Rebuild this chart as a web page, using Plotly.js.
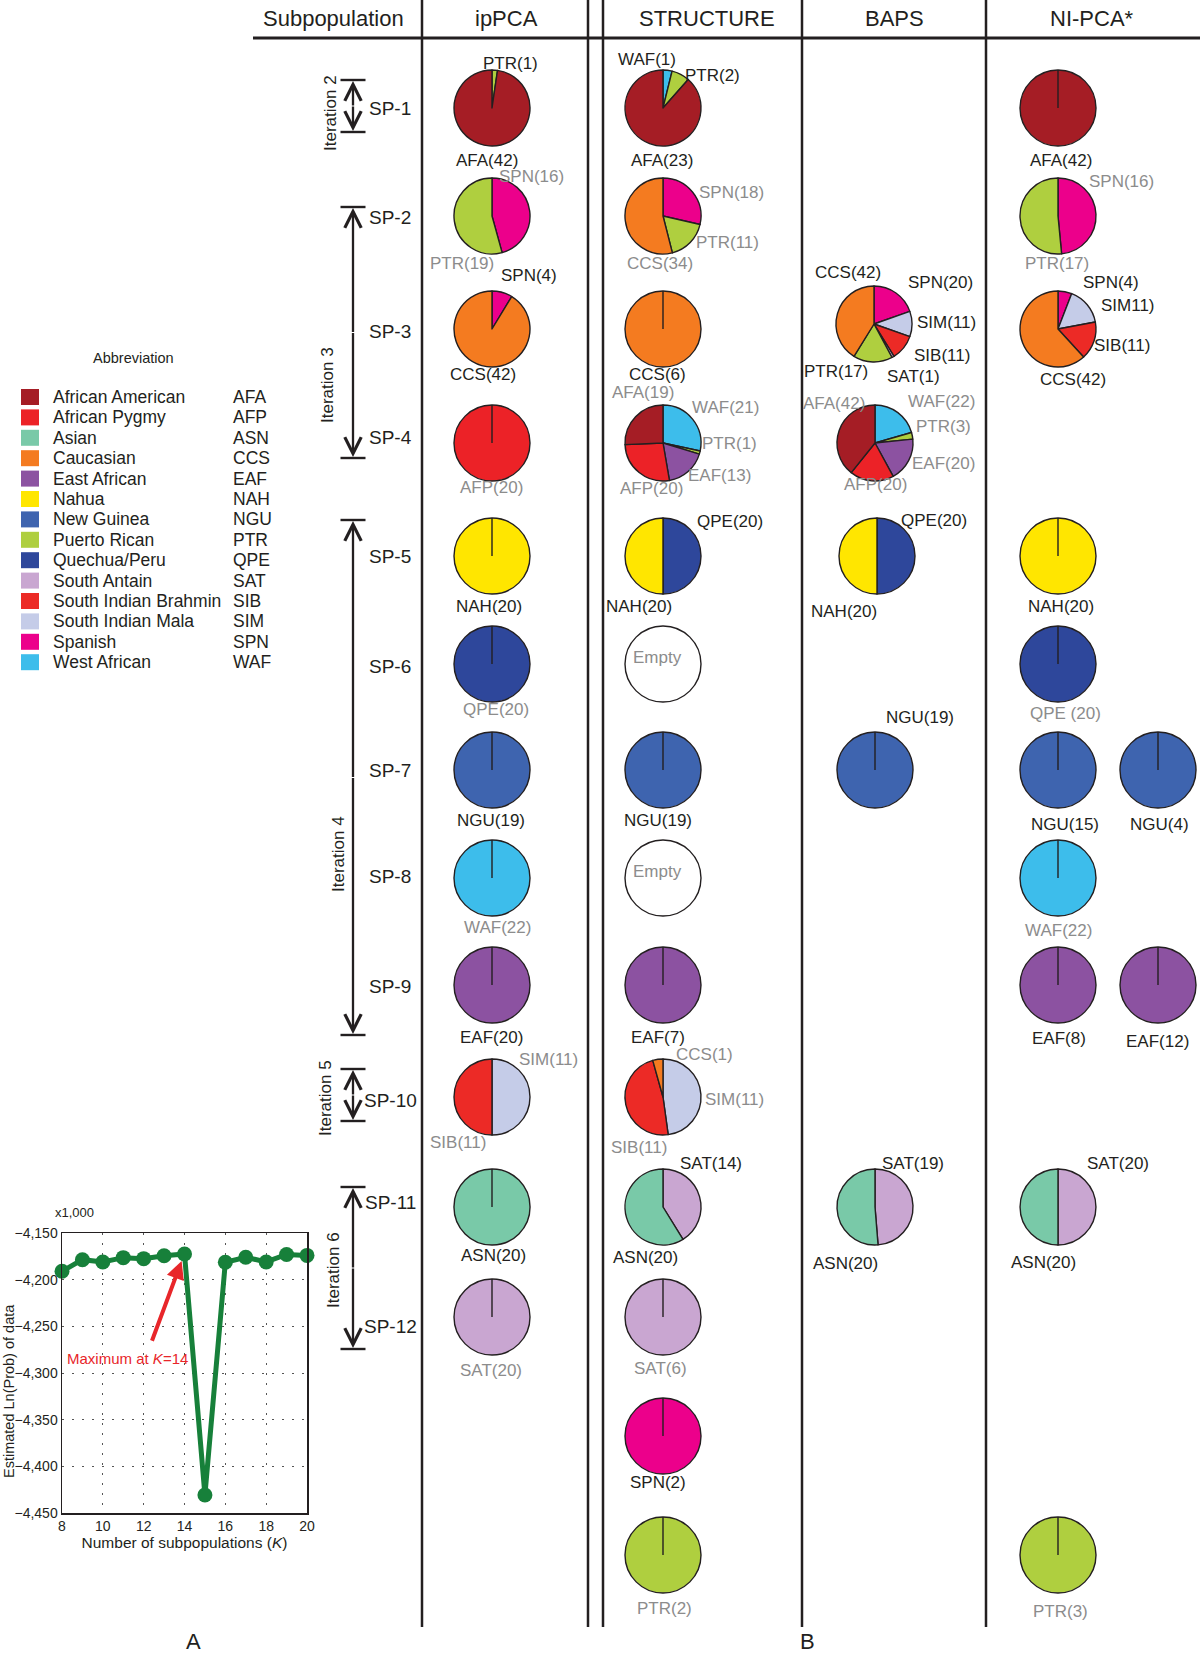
<!DOCTYPE html>
<html><head><meta charset="utf-8">
<script src="https://cdn.plot.ly/plotly-3.0.1.min.js"></script>
<style>html,body{margin:0;padding:0;background:#fff}#chart{width:1200px;height:1654px}</style>
</head><body><div id="chart"></div>
<script>
// ================= DATA =================
const popCodes = ['AFA','AFP','ASN','CCS','EAF','NAH','NGU','PTR','QPE','SAT','SIB','SIM','SPN','WAF'];
const popNames = ['African American','African Pygmy','Asian','Caucasian','East African','Nahua','New Guinea','Puerto Rican','Quechua/Peru','South Antain','South Indian Brahmin','South Indian Mala','Spanish','West African'];
const methods = ['ipPCA','STRUCTURE','BAPS','NI-PCA*'];
const subpops = ['SP-1','SP-2','SP-3','SP-4','SP-5','SP-6','SP-7','SP-8','SP-9','SP-10','SP-11','SP-12'];
const iterations = ['Iteration 2','Iteration 3','Iteration 4','Iteration 5','Iteration 6'];

// pies: column (0 ipPCA, 1 STRUCTURE, 2 BAPS, 3 NI-PCA*, 4 NI-PCA* second cluster), row (0..11 = SP-1..SP-12, 12/13 extra rows)
const pieCol = [0,0,0,0,0,0,0,0,0,0,0,0, 1,1,1,1,1,1,1,1,1,1,1,1,1,1, 2,2,2,2,2, 3,3,3,3,3,3,3,3,3,3, 4,4];
const pieRow = [0,1,2,3,4,5,6,7,8,9,10,11, 0,1,2,3,4,5,6,7,8,9,10,11,12,13, 2,3,4,6,10, 0,1,2,4,5,6,7,8,10,13, 6,8];
const pieCodes = [
  ['PTR','AFA'],['SPN','PTR'],['SPN','CCS'],['AFP'],['NAH'],['QPE'],['NGU'],['WAF'],['EAF'],['SIM','SIB'],['ASN'],['SAT'],
  ['WAF','PTR','AFA'],['SPN','PTR','CCS'],['CCS'],['WAF','PTR','EAF','AFP','AFA'],['QPE','NAH'],[],['NGU'],[],['EAF'],['SIM','SIB','CCS'],['SAT','ASN'],['SAT'],['SPN'],['PTR'],
  ['SPN','SIM','SIB','SAT','PTR','CCS'],['WAF','PTR','EAF','AFP','AFA'],['QPE','NAH'],['NGU'],['SAT','ASN'],
  ['AFA'],['SPN','PTR'],['SPN','SIM','SIB','CCS'],['NAH'],['QPE'],['NGU'],['WAF'],['EAF'],['SAT','ASN'],['PTR'],
  ['NGU'],['EAF']
];
const pieCounts = [
  [1,42],[16,19],[4,42],[20],[20],[20],[19],[22],[20],[11,11],[20],[20],
  [1,2,23],[18,11,34],[6],[21,1,13,20,19],[20,20],[],[19],[],[7],[11,11,1],[14,20],[6],[2],[2],
  [20,11,11,1,17,42],[22,3,20,20,42],[20,20],[19],[19,20],
  [42],[16,17],[4,11,11,42],[20],[20],[15],[22],[8],[20,20],[3],
  [4],[12]
];
// label text as printed in the figure (same order as codes)
const pieLabels = [
  ['PTR(1)','AFA(42)'],['SPN(16)','PTR(19)'],['SPN(4)','CCS(42)'],['AFP(20)'],['NAH(20)'],['QPE(20)'],['NGU(19)'],['WAF(22)'],['EAF(20)'],['SIM(11)','SIB(11)'],['ASN(20)'],['SAT(20)'],
  ['WAF(1)','PTR(2)','AFA(23)'],['SPN(18)','PTR(11)','CCS(34)'],['CCS(6)'],['WAF(21)','PTR(1)','EAF(13)','AFP(20)','AFA(19)'],['QPE(20)','NAH(20)'],['Empty'],['NGU(19)'],['Empty'],['EAF(7)'],['SIM(11)','SIB(11)','CCS(1)'],['SAT(14)','ASN(20)'],['SAT(6)'],['SPN(2)'],['PTR(2)'],
  ['SPN(20)','SIM(11)','SIB(11)','SAT(1)','PTR(17)','CCS(42)'],['WAF(22)','PTR(3)','EAF(20)','AFP(20)','AFA(42)'],['QPE(20)','NAH(20)'],['NGU(19)'],['SAT(19)','ASN(20)'],
  ['AFA(42)'],['SPN(16)','PTR(17)'],['SPN(4)','SIM11)','SIB(11)','CCS(42)'],['NAH(20)'],['QPE (20)'],['NGU(15)'],['WAF(22)'],['EAF(8)'],['SAT(20)','ASN(20)'],['PTR(3)'],
  ['NGU(4)'],['EAF(12)']
];
const pieLabelGray = [0,1,0,1,0,1,0,1,0,1,0,1, 0,1,0,1,0,1,0,1,0,1,0,1,0,1, 0,1,0,0,0, 0,1,0,0,1,0,1,0,0,1, 0,0];

// Panel A: estimated Ln(Prob) of data (x1,000) vs K
const kValues = [8,9,10,11,12,13,14,15,16,17,18,19,20];
const lnProb = [-4191,-4178.6,-4181,-4176.4,-4177.5,-4174.3,-4172.5,-4430.7,-4181.4,-4176,-4181,-4173,-4174];
const yTicks = [-4150,-4200,-4250,-4300,-4350,-4400,-4450];
const xTicks = [8,10,12,14,16,18,20];

// ================= STYLE / LAYOUT TABLES =================
const W = 1200, H = 1654, S = 1200/1138;
const px = x => x / W, py = y => 1 - y / H;
const FONT = 'Liberation Sans, Arial, Helvetica, sans-serif';
const popColors = {AFA:'#A51D25',AFP:'#EC2227',ASN:'#79C9A8',CCS:'#F47B20',EAF:'#8C52A1',NAH:'#FFE600',NGU:'#3E64AF',PTR:'#AFCF3F',QPE:'#2E479B',SAT:'#C9A6D1',SIB:'#EC2A26',SIM:'#C5CCE8',SPN:'#EC008B',WAF:'#3DBDEB'};
const GRAY = '#8C8C8C', INK = '#231F20';
const colX = [492, 663, 875, 1058, 1158];
const rowY = [108, 216, 329, 443, 556, 664, 770, 878, 985, 1097, 1207, 1317, 1436, 1555];
const R = 38;
const centerOverride = {26:[874,324], 28:[877,556]};
// label positions (in units of the 1138-wide reference view), same order as labels
const labelPos = [
  [[484,60],[462,152]],[[504,167],[438,250]],[[502,261],[458,355]],[[466,462]],[[464,575]],[[470,673]],[[466,778]],[[472,880]],[[466,984]],[[520,1005],[434,1083]],[[468,1191]],[[466,1300]],
  [[614,56],[676,72],[628,152]],[[694,183],[690,230],[626,250]],[[624,355]],[[688,386],[692,421],[682,451],[618,463],[610,372]],[[692,495],[606,575]],[[624,624]],[[624,778]],[[624,826]],[[624,984]],[[697,1043],[606,1088],[668,1000]],[[674,1103],[612,1193]],[[626,1298]],[[624,1406]],[[630,1525]],
  [[892,268],[898,306],[893,337],[866,357],[793,352],[804,258]],[[893,381],[895,404],[895,440],[830,459],[791,383]],[[886,494],[800,580]],[[872,680]],[[866,1103],[802,1198]],
  [[1006,152]],[[1064,172],[1002,250]],[[1054,268],[1070,290],[1064,328],[1018,360]],[[1006,575]],[[1010,677]],[[1010,782]],[[1004,882]],[[1004,985]],[[1060,1103],[990,1197]],[[1006,1528]],
  [[1100,782]],[[1098,988]]
];

const traces = [], shapes = [], annotations = [];
const txt = (x, y, text, size, color, extra) => annotations.push(Object.assign({
  xref:'paper', yref:'paper', x:px(x), y:py(y), text, showarrow:false,
  xanchor:'center', yanchor:'middle', font:{family:FONT, size, color}
}, extra || {}));

// ---- pies ----
pieCodes.forEach((codes, i) => {
  const c = centerOverride[i] || [colX[pieCol[i]], rowY[pieRow[i]]];
  const cx = c[0], cy = c[1];
  const empty = codes.length === 0;
  traces.push({
    type:'pie', sort:false, direction:'clockwise', rotation:0,
    values: empty ? [1] : pieCounts[i],
    labels: empty ? ['Empty'] : codes,
    marker:{colors: empty ? ['#FFFFFF'] : codes.map(k => popColors[k]), line:{color:INK, width:1.4}},
    domain:{x:[px(cx-R), px(cx+R)], y:[py(cy+R), py(cy-R)]},
    textinfo:'none', hoverinfo:'none', showlegend:false
  });
  if (!empty && codes.length === 1) {
    shapes.push({type:'line', xref:'paper', yref:'paper', x0:px(cx), x1:px(cx), y0:py(cy), y1:py(cy-R), line:{color:INK, width:1.4}});
  }
  pieLabels[i].forEach((lab, j) => {
    const p = labelPos[i][j];
    txt(p[0]*S, p[1]*S, lab, 17, pieLabelGray[i] ? GRAY : INK);
  });
});

// ---- table frame ----
const vLines = [422, 588, 603, 802, 986];
vLines.forEach(x => shapes.push({type:'line', xref:'paper', yref:'paper', x0:px(x), x1:px(x), y0:py(0), y1:py(1627), line:{color:INK, width:2.5}}));
shapes.push({type:'line', xref:'paper', yref:'paper', x0:px(253), x1:px(1200), y0:py(38), y1:py(38), line:{color:INK, width:3}});
const headX = [333, 506, 707, 894, 1092];
['Subpopulation'].concat(methods).forEach((h, i) => txt(headX[i], 19, h, 22, INK));

// ---- SP labels ----
const spY = [109, 218, 332, 438, 556, 666, 770, 877, 986, 1100, 1202, 1326];
subpops.forEach((s, i) => txt(390, spY[i], s, 19, INK));

// ---- iteration brackets ----
const brTop = [80, 207, 520, 1069, 1187], brBot = [132, 458, 1035, 1121, 1349];
const itTextY = [113, 385, 854, 1098, 1270], itTextX = [330, 328, 338, 325, 333];
const BX = 353;
iterations.forEach((it, i) => {
  const half = (brBot[i] - brTop[i]) / 2;
  [brTop[i], brBot[i]].forEach(y => shapes.push({type:'line', xref:'paper', yref:'paper', x0:px(BX-12.5), x1:px(BX+12.5), y0:py(y), y1:py(y), line:{color:INK, width:2.4}}));
  annotations.push({xref:'paper', yref:'paper', x:px(BX), y:py(brTop[i]+1), ax:0, ay:half, showarrow:true, arrowhead:5, arrowsize:1.4, arrowwidth:2.3, arrowcolor:INK, standoff:0, text:''});
  annotations.push({xref:'paper', yref:'paper', x:px(BX), y:py(brBot[i]-1), ax:0, ay:-half, showarrow:true, arrowhead:5, arrowsize:1.4, arrowwidth:2.3, arrowcolor:INK, standoff:0, text:''});
  txt(itTextX[i], itTextY[i], it, 17, INK, {textangle:-90});
});

// ---- legend (abbreviations) ----
txt(133, 358, 'Abbreviation', 14.5, INK);
popCodes.forEach((code, i) => {
  const y = 397 + i * 20.4;
  shapes.push({type:'rect', xref:'paper', yref:'paper', x0:px(21), x1:px(39), y0:py(y+8), y1:py(y-8), fillcolor:popColors[code], line:{width:0}});
  txt(51, y, popNames[i], 17.5, INK, {xanchor:'left'});
  txt(231, y, code, 17.5, INK, {xanchor:'left'});
});

// ---- panel A ----
const GREEN = '#17803A';
traces.push({
  type:'scatter', mode:'lines+markers', x:kValues, y:lnProb, xaxis:'x', yaxis:'y',
  line:{color:GREEN, width:5}, marker:{color:GREEN, size:15}, cliponaxis:false,
  hoverinfo:'x+y', showlegend:false
});
annotations.push({xref:'x', yref:'y', axref:'x', ayref:'y', x:13.86, y:-4180, ax:12.38, ay:-4267,
  showarrow:true, arrowhead:2, arrowsize:0.9, arrowwidth:4, arrowcolor:'#E8262A', text:''});
txt(127, 1358, 'Maximum at <i>K</i>=14', 15, '#E8262A');
txt(74, 1212, 'x1,000', 13, INK);
txt(9, 1391, 'Estimated Ln(Prob) of data', 14.5, INK, {textangle:-90});
txt(194, 1641, 'A', 22, INK);
txt(807, 1641, 'B', 22, INK);

const axisCommon = {showline:true, mirror:true, linecolor:INK, linewidth:1.5, ticks:'', zeroline:false,
  showgrid:true, gridcolor:'#555', gridwidth:1, griddash:'2px,8px', tickfont:{family:FONT, size:14, color:INK}, fixedrange:true};
const layout = {
  width:W, height:H, margin:{l:0, r:0, t:0, b:0}, paper_bgcolor:'#fff', plot_bgcolor:'#fff',
  font:{family:FONT, color:INK}, showlegend:false, separators:'.,',
  xaxis: Object.assign({}, axisCommon, {domain:[px(62), px(307)], range:[8,20], tickvals:xTicks, anchor:'y',
    title:{text:'Number of subpopulations (<i>K</i>)', font:{family:FONT, size:15.5, color:INK}, standoff:4}}),
  yaxis: Object.assign({}, axisCommon, {domain:[py(1513), py(1233)], range:[-4450,-4150], tickvals:yTicks, tickformat:',d', anchor:'x'}),
  shapes, annotations
};
Plotly.newPlot('chart', traces, layout, {staticPlot:true, displayModeBar:false});
</script>
</body></html>
